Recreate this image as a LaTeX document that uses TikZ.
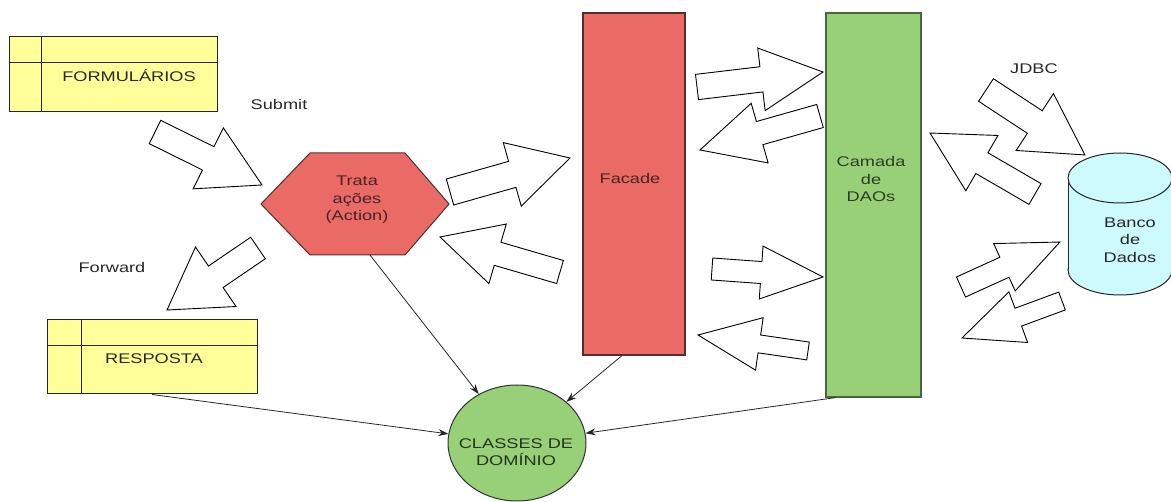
\documentclass[tikz,border=0pt]{standalone}
\usepackage{fontspec}
\setmainfont{Liberation Sans}[FakeStretch=1.3]
\usetikzlibrary{arrows.meta,shapes.geometric}
\definecolor{ybox}{RGB}{255,255,153}
\definecolor{rfill}{RGB}{234,107,102}
\definecolor{rdraw}{RGB}{85,45,45}
\definecolor{gfill}{RGB}{151,208,119}
\definecolor{gdraw}{RGB}{75,100,65}
\definecolor{cfill}{RGB}{205,250,252}
\definecolor{txt}{RGB}{40,40,40}
\newcommand\blkarrow[7]{%
  \pgfmathsetmacro\baang{atan2(-(#4-#2),#3-#1)}%
  \pgfmathsetmacro\balen{veclen(#3-#1,#4-#2)}%
  \begin{scope}[shift={(#1,#2)},rotate=\baang]
    \draw[blockarrow] (0,-#5) -- (\balen-#7,-#5) -- (\balen-#7,-#6) -- (\balen,0)
      -- (\balen-#7,#6) -- (\balen-#7,#5) -- (0,#5) -- cycle;
  \end{scope}}
\begin{document}
\begin{tikzpicture}[x=1pt,y=-1pt,
  font=\fontsize{14}{17.5}\selectfont,
  every node/.style={text=txt},
  blockarrow/.style={draw=black,fill=white,line width=0.9pt,line join=miter},
  yboxst/.style={draw=black!85,fill=ybox,line width=1pt,rectangle,inner sep=0pt},
  lbl/.style={inner sep=0pt,align=center},
  conn/.style={draw=black!85,line width=0.8pt,-{Stealth[length=10pt,width=7pt]}}]
\useasboundingbox (0,0) rectangle (1171,502);

% FORMULARIOS box
\node[yboxst,minimum width=208pt,minimum height=75pt] (form) at (113,74.5) {};
\draw[draw=black!85,line width=1pt] ([xshift=33pt]form.north west) -- ([xshift=33pt]form.south west);
\draw[draw=black!85,line width=1pt] ([yshift=-26pt]form.north west) -- ([yshift=-26pt]form.north east);
\node[lbl] (formt) at (129,76) {FORMULÁRIOS};

% RESPOSTA box
\node[yboxst,minimum width=210pt,minimum height=74pt] (resp) at (152,357) {};
\draw[draw=black!85,line width=1pt] ([xshift=35pt]resp.north west) -- ([xshift=35pt]resp.south west);
\draw[draw=black!85,line width=1pt] ([yshift=-26pt]resp.north west) -- ([yshift=-26pt]resp.north east);
\node[lbl] (respt) at (154,359) {RESPOSTA};

% Hexagon
\draw[fill=rfill,draw=rdraw,line width=1pt] (261,204) -- (310,153) -- (405,153) -- (449,204) -- (405,255) -- (310,255) -- cycle;
\coordinate (hexb) at (370,255);
\node[lbl,text=rdraw!80!black] (hex) at (357,200) {Trata\\ações\\(Action)};

% Facade
\node[rectangle,fill=rfill,draw=rdraw,line width=1.2pt,minimum width=102pt,minimum height=342pt,inner sep=0pt] (facade) at (634,184) {};
\node[lbl,text=rdraw!80!black] (facadet) at (630,178) {Facade};

% DAOs
\node[rectangle,fill=gfill,draw=gdraw,line width=1.2pt,minimum width=95pt,minimum height=384pt,inner sep=0pt] (dao) at (873.5,205) {};
\node[lbl,text=gdraw!60!black] (daot) at (871,179) {Camada\\de\\DAOs};

% Cylinder
\fill[cfill] (1068,178) rectangle (1172,270);
\draw[fill=cfill,draw=black!85,line width=1pt] (1120,270) ellipse [x radius=52pt,y radius=25pt];
\fill[cfill] (1068.6,178) rectangle (1171.4,270);
\draw[draw=black!85,line width=1pt] (1068,178) -- (1068,270) (1172,178) -- (1172,270);
\draw[fill=cfill,draw=black!85,line width=1pt] (1120,178) ellipse [x radius=52pt,y radius=25pt];
\coordinate (db) at (1120,224);
\node[lbl] (dbt) at (1130,240) {Banco\\de\\Dados};

% Dominio
\node[ellipse,fill=gfill,draw=black!80,line width=1pt,minimum width=138pt,minimum height=116pt,inner sep=0pt] (dom) at (517,443) {};
\node[lbl,text=gdraw!50!black] (domt) at (516,452) {CLASSES DE\\DOMÍNIO};

% labels
\node[lbl] (submit) at (279,105) {Submit};
\node[lbl] (forward) at (112,267) {Forward};
\node[lbl] (jdbc) at (1034,69) {JDBC};

% block arrows: tail x,y ; tip x,y ; shaft half ; head half ; head length
\blkarrow{155}{132}{262}{185}{13}{34}{60}
\blkarrow{258}{248}{167}{310}{13}{36}{59}
\blkarrow{450}{192}{570}{158}{13.5}{33}{60}
\blkarrow{560}{272}{440}{237}{12}{31}{60}
\blkarrow{697}{87}{823}{72}{12.7}{31.5}{62}
\blkarrow{820}{116}{700}{150}{12}{31}{62}
\blkarrow{712}{269}{823}{277}{11}{26.5}{62}
\blkarrow{808}{351}{698}{335}{9}{26.5}{62}
\blkarrow{986}{90}{1085}{155}{13.5}{34}{60}
\blkarrow{1035}{194}{930}{133}{12}{32}{60}
\blkarrow{961}{287}{1060}{242}{11}{26}{61}
\blkarrow{1062}{301}{962}{338}{9.5}{27}{60}

% connectors
\draw[conn] (resp.south) -- (dom);
\draw[conn] (hexb) -- (dom);
\draw[conn] ([xshift=-12pt]facade.south) -- (dom);
\draw[conn] ([xshift=-38pt]dao.south) -- (dom);
\end{tikzpicture}
\end{document}
